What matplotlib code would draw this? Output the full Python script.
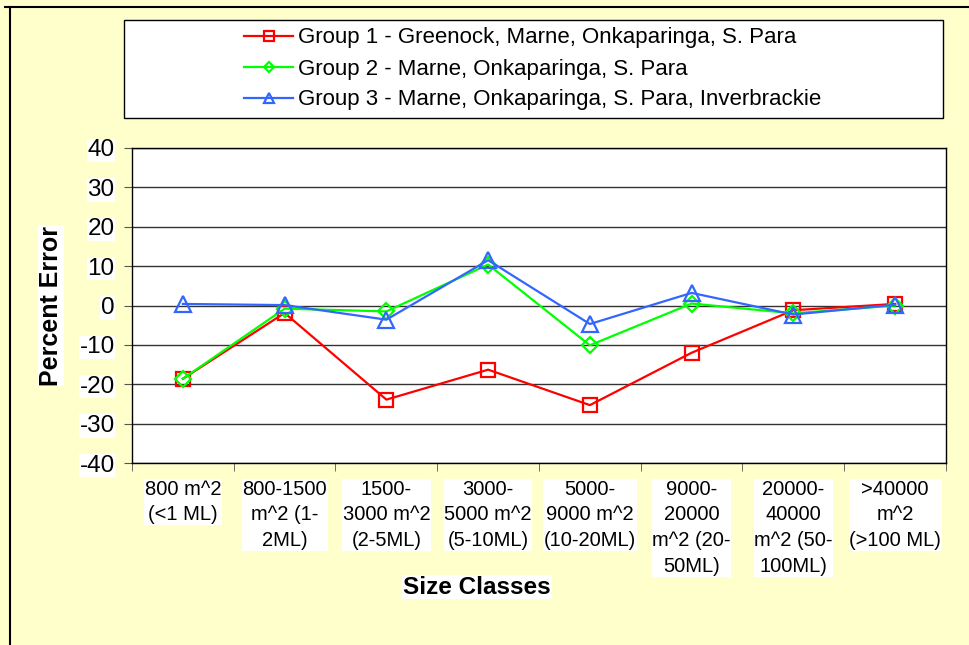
import matplotlib.pyplot as plt
from matplotlib.lines import Line2D
from matplotlib.patches import Rectangle
import numpy as np

plt.rcParams['font.family'] = ['Liberation Sans', 'DejaVu Sans']
plt.rcParams['axes.unicode_minus'] = False

categories = ['800 m^2\n(<1 ML)', '800-1500\nm^2 (1-\n2ML)', '1500-\n3000 m^2\n(2-5ML)',
              '3000-\n5000 m^2\n(5-10ML)', '5000-\n9000 m^2\n(10-20ML)', '9000-\n20000\nm^2 (20-\n50ML)',
              '20000-\n40000\nm^2 (50-\n100ML)', '>40000\nm^2\n(>100 ML)']
group1 = [-18.6, -1.9, -23.9, -16.3, -25.3, -12.0, -1.2, 0.4]
group2 = [-18.6, -0.8, -1.5, 10.4, -10.1, 0.5, -2.0, 0.0]
group3 = [0.4, 0.1, -3.6, 11.5, -4.7, 3.2, -2.3, 0.2]
names = ['Group 1 - Greenock, Marne, Onkaparinga, S. Para',
         'Group 2 - Marne, Onkaparinga, S. Para',
         'Group 3 - Marne, Onkaparinga, S. Para, Inverbrackie']

bg = '#FFFFCC'
W, H = 970, 645
fig = plt.figure(figsize=(9.7, 6.45), dpi=100, facecolor=bg)
ax = fig.add_axes([132/W, 1-463/H, 814/W, 315/H])
ax.set_facecolor('white')

x = np.arange(len(categories))
ax.plot(x, group1, color='#FF0000', marker='s', ms=10.5, mfc='none', mew=1.6, lw=1.6, label=names[0])
ax.plot(x, group2, color='#00FF00', marker='D', ms=8, mfc='none', mew=1.6, lw=1.6, label=names[1])
ax.plot(x, group3, color='#3366FF', marker='^', ms=11, mfc='none', mew=1.6, lw=1.6, label=names[2])

ax.set_xlim(-0.5, len(categories) - 0.5)
ax.set_ylim(-40, 40)
ax.set_yticks(np.arange(-40, 41, 10))
ax.yaxis.grid(True, color='#333333', lw=1)
ax.set_axisbelow(True)
ax.set_xticks(x)
ax.set_xticklabels(categories, fontsize=14.5, linespacing=1.45,
                   bbox=dict(facecolor='white', edgecolor='none', pad=0.5))
ax.tick_params(axis='x', length=0, pad=12)
ax.set_xticks(np.arange(-0.5, len(categories), 1), minor=True)
ax.tick_params(axis='x', which='minor', length=6, color='#555555')
ax.tick_params(axis='y', labelsize=17.5, length=5.5, pad=7, color='#555555')
for lab in ax.get_yticklabels():
    lab.set_bbox(dict(facecolor='white', edgecolor='none', pad=0.5))
for s in ax.spines.values():
    s.set_color('black')
    s.set_linewidth(1)

ax.set_ylabel('Percent Error', fontsize=18, fontweight='bold', va='center',
              bbox=dict(facecolor='white', edgecolor='none', pad=0.5))
ax.yaxis.set_label_coords((51-132)/814, 0.5)
ax.set_xlabel('Size Classes', fontsize=17.5, fontweight='bold', va='center',
              bbox=dict(facecolor='white', edgecolor='none', pad=0.5))
ax.xaxis.set_label_coords((477-132)/814, -(587-463)/315)

# legend box
fig.add_artist(Rectangle((124/W, 1-118/H), 819/W, 98/H, transform=fig.transFigure,
                         facecolor='white', edgecolor='black', lw=1))
leg = fig.legend(loc='center', bbox_to_anchor=(533/W, 1-69/H), fontsize=16,
                 frameon=False, handlelength=2.2, labelspacing=0.45,
                 handletextpad=0.22, markerscale=0.7)
leg._legend_box.align = 'left'

# outer chart frame (top and left edges visible)
fig.add_artist(Line2D([5/W, 1], [1-7/H, 1-7/H], color='black', lw=1.5))
fig.add_artist(Line2D([10/W, 10/W], [0, 1-7/H], color='black', lw=1.5))

fig.savefig('out.png', dpi=100, facecolor=bg)
